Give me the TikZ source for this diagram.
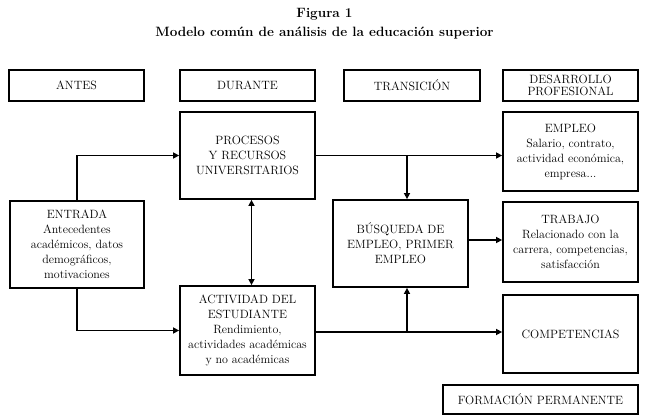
\documentclass[tikz,border=0pt]{standalone}
\usetikzlibrary{arrows.meta,calc}
\begin{document}
\begin{tikzpicture}[x=1pt,y=-1pt,
  box/.style={draw, line width=1.8pt, align=center, inner sep=0pt, minimum width=135pt,
    font=\fontsize{12}{15}\selectfont},
  ttl/.style={font=\fontsize{13.5}{16}\selectfont\bfseries, inner sep=0pt},
  conn/.style={line width=1.7pt, -{Triangle[length=6pt,width=6pt]}},
  dconn/.style={line width=1.7pt, {Triangle[length=6pt,width=6pt]}-{Triangle[length=6pt,width=6pt]}}]
\useasboundingbox (0,0) rectangle (649,420);
% titles
\node[ttl] (fig) at (324.5,14) {Figura 1};
\node[ttl] (tit) at (324.5,33) {Modelo común de análisis de la educación superior};
% headers
\node[box, minimum height=31pt] (antes) at (76.5,85.5) {ANTES};
\node[box, minimum height=31pt] (durante) at (247.5,85.5) {DURANTE};
\node[box, minimum height=31pt, minimum width=136pt] (trans) at (412,85.5) {TRANSICIÓN};
\node[box, minimum height=31pt] (desa) at (570.5,85.5) {DESARROLLO\\[-3pt]PROFESIONAL};
% main boxes
\node[box, minimum height=87pt] (procesos) at (247.5,155.5) {PROCESOS\\Y RECURSOS\\UNIVERSITARIOS};
\node[box, minimum height=87pt, minimum width=134pt] (entrada) at (77,244.5) {ENTRADA\\Antecedentes\\académicos, datos\\demográficos,\\motivaciones};
\node[box, minimum height=89pt] (actividad) at (247.5,330.5) {ACTIVIDAD DEL\\ESTUDIANTE\\Rendimiento,\\actividades académicas\\y no académicas};
\node[box, minimum height=87pt] (busqueda) at (400.5,243.5) {BÚSQUEDA DE\\EMPLEO, PRIMER\\EMPLEO};
\node[box, minimum height=79pt] (empleo) at (570.5,151.5) {EMPLEO\\Salario, contrato,\\actividad económica,\\empresa...};
\node[box, minimum height=80pt] (trabajo) at (570.5,242) {TRABAJO\\Relacionado con la\\carrera, competencias,\\satisfacción};
\node[box, minimum height=78pt] (compet) at (570.5,334) {COMPETENCIAS};
\node[box, minimum height=29pt, minimum width=195pt] (formacion) at (540.5,399.5) {FORMACIÓN PERMANENTE};
% connectors
\draw[conn] (entrada.north) |- (procesos.west);
\draw[conn] (entrada.south) |- (actividad.west);
\draw[dconn] ([xshift=4pt]procesos.south) -- ([xshift=4pt]actividad.north);
\coordinate (j1) at (407,155.5);
\coordinate (j2) at (407,332);
\draw[conn] (procesos.east) -- (procesos.east -| empleo.west);
\draw[conn] (j1) -- (j1 |- busqueda.north);
\draw[conn] (busqueda.east |- 0,240) -- (trabajo.west |- 0,240);
\draw[conn] (actividad.east |- j2) -- (compet.west |- j2);
\draw[conn] (j2) -- (j2 |- busqueda.south);
\end{tikzpicture}
\end{document}
